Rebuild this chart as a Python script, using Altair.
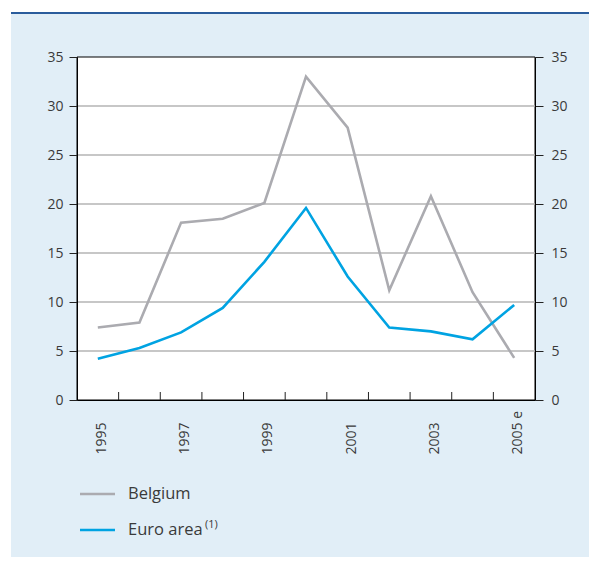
import altair as alt
import pandas as pd

# ---- data ----
years = ["1995", "1996", "1997", "1998", "1999", "2000", "2001", "2002", "2003", "2004", "2005 e"]
belgium = [7.4, 7.9, 18.1, 18.5, 20.1, 33.0, 27.8, 11.2, 20.8, 11.0, 4.3]
euro_area = [4.2, 5.3, 6.9, 9.4, 14.1, 19.6, 12.6, 7.4, 7.0, 6.2, 9.7]
series_names = ["Belgium", "Euro area"]
series_colors = ["#ababb0", "#00a3e2"]
shown_year_labels = ["1995", "1997", "1999", "2001", "2003", "2005 e"]
y_tick_values = [0, 5, 10, 15, 20, 25, 30, 35]
grid_values = [5, 10, 15, 20, 25, 30]
superscript = "(1)"

rows = []
for name, vals in zip(series_names, [belgium, euro_area]):
    for yr, v in zip(years, vals):
        rows.append({"year": yr, "value": v, "series": name})
df = pd.DataFrame(rows)

W, H = 458, 343
PAD = {"left": 69, "top": 49, "right": 54, "bottom": 157}
FONT = "Open Sans"
TXT = "#3a3a3a"

one = pd.DataFrame({"k": [0]})
x_scale = alt.Scale(type="band", domain=years, paddingInner=0, paddingOuter=0)
y_scale = alt.Scale(domain=[0, 35], nice=False, zero=True)
color_scale = alt.Scale(domain=series_names, range=series_colors)

x_axis = alt.Axis(orient="bottom", values=shown_year_labels, title=None, ticks=False,
                  tickSize=0, labelAngle=-90, labelAlign="left", labelBaseline="middle",
                  labelPadding=54, labelOffset=4, labelOverlap=False, grid=False,
                  domainColor="black", zindex=1)

bg = alt.Chart(one).mark_rect(color="#e1eef7").encode(
    x=alt.value(-66), x2=alt.value(W + PAD["right"]), y=alt.value(-43), y2=alt.value(H + PAD["bottom"])
)
topbar = alt.Chart(one).mark_rect(color="#2a5c9c").encode(
    x=alt.value(-66), x2=alt.value(W + PAD["right"]), y=alt.value(-45), y2=alt.value(-43)
)
plotbg = alt.Chart(one).mark_rect(fill="white", stroke="black", strokeWidth=1).encode(
    x=alt.value(0), x2=alt.value(W), y=alt.value(0), y2=alt.value(H)
)

grid = alt.Chart(pd.DataFrame({"v": grid_values})).mark_rule(
    color="#b4b4b4", strokeWidth=1.5
).encode(
    x=alt.value(0), x2=alt.value(W),
    y=alt.Y("v:Q", scale=y_scale,
            axis=alt.Axis(orient="right", values=y_tick_values, grid=False, title=None,
                          tickSize=8, labelPadding=8, tickColor="#222", domainColor="black",
                          zindex=1)),
)

xticks = alt.Chart(pd.DataFrame({"year": years[1:]})).mark_rule(color="#222", strokeWidth=1).encode(
    x=alt.X("year:N", bandPosition=0, scale=x_scale, axis=x_axis),
    y=alt.value(H), y2=alt.value(H - 8),
)

lines = alt.Chart(df).mark_line(strokeWidth=2.6).encode(
    x=alt.X("year:N", bandPosition=0.5, scale=x_scale, sort=years, axis=x_axis),
    y=alt.Y("value:Q", scale=y_scale,
            axis=alt.Axis(orient="left", values=y_tick_values, grid=False, title=None,
                          tickSize=8, labelPadding=6, tickColor="#222", domainColor="black",
                          zindex=1)),
    color=alt.Color("series:N", scale=color_scale, legend=None),
)

leg_y = alt.Scale(type="point", domain=series_names, range=[437, 473], padding=0)
leg_df = pd.DataFrame({"series": series_names})
leg_lines = alt.Chart(leg_df).mark_rule(strokeWidth=2.6).encode(
    x=alt.value(3), x2=alt.value(38),
    y=alt.Y("series:N", scale=leg_y, axis=None),
    color=alt.Color("series:N", scale=color_scale, legend=None),
)
leg_text = alt.Chart(leg_df).mark_text(
    align="left", baseline="middle", font=FONT, fontSize=16.5, color=TXT
).encode(
    x=alt.value(51),
    y=alt.Y("series:N", scale=leg_y, axis=None),
    text="series:N",
)
sup_text = alt.Chart(pd.DataFrame({"t": [superscript]})).mark_text(
    align="left", baseline="middle", font=FONT, fontSize=11, color=TXT
).encode(x=alt.value(128), y=alt.value(468), text="t:N")

chart = alt.layer(
    bg, topbar, plotbg, grid, xticks, lines, leg_lines, leg_text, sup_text
).resolve_scale(y="independent").properties(
    width=W, height=H,
    padding=PAD,
    autosize=alt.AutoSizeParams(type="none"),
).configure(background="white").configure_view(stroke=None).configure_axis(
    labelFont=FONT, labelFontSize=14, labelColor=TXT, domainWidth=1
)

chart.save("out.html", embed_options={"renderer": "svg", "actions": False})
